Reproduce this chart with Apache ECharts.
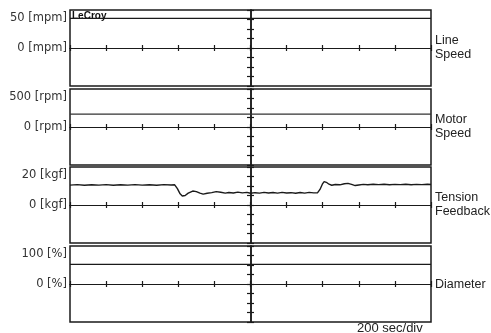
<!DOCTYPE html>
<html>
<head>
<meta charset="utf-8">
<script src="https://cdn.jsdelivr.net/npm/echarts@6/dist/echarts.min.js"></script>
<style>html,body{margin:0;padding:0;background:#fff}#c{width:491px;height:333px}</style>
</head>
<body>
<div id="c"></div>
<script>
// ---- data ----
const panelNames = ['Line\nSpeed', 'Motor\nSpeed', 'Tension\nFeedback', 'Diameter'];
const panelUnits = ['mpm', 'rpm', 'kgf', '%'];
const scaleLabelValues = [50, 500, 20, 100];      // labelled level on each panel
const valuePerDiv = [16, 160, 6.4, 32];           // value per vertical division
const timeAxisMin = -1000, timeAxisMax = 1000, secPerDiv = 200;

const divTime = [-1000, -800, -600, -400, -200, 0, 200, 400, 600, 800, 1000];
const lineSpeed = [50, 50, 50, 50, 50, 50, 50, 50, 50, 50, 50];
const motorSpeed = [218, 216, 219, 217, 218, 216, 218, 217, 219, 217, 218];
const diameter = [66, 66, 66, 66, 66, 66, 66, 66, 66, 66, 66];

const tensionTime = [
  -1000, -960, -920, -880, -840, -800, -760, -720, -680, -640, -600, -560, -520, -480, -440, -420,
  -405, -390, -378, -362, -345, -320, -300, -280, -262, -240, -215, -190, -165, -140, -120, -95, -70, -45, -20, 0,
  25, 50, 75, 100, 125, 150, 175, 200, 225, 250, 275, 300, 325, 350, 372,
  385, 398, 408, 420, 435, 450, 470, 495, 520, 540, 560, 580, 600, 625, 650, 680, 710, 740, 770, 800, 830, 860, 890, 920, 950, 980, 1000
];
const tension = [
  13.4, 13.7, 13.3, 13.6, 13.4, 13.7, 13.3, 13.6, 13.4, 13.7, 13.4, 13.6, 13.3, 13.7, 13.5, 13.6,
  11.0, 7.5, 6.1, 6.4, 8.0, 9.4, 9.0, 8.0, 7.3, 7.9, 8.3, 9.0, 8.6, 8.0, 8.4, 8.1, 8.7, 8.2, 8.5, 7.9,
  8.3, 8.0, 8.5, 8.1, 8.4, 8.0, 8.5, 8.1, 8.3, 7.9, 8.4, 8.0, 8.5, 8.2, 8.3,
  10.5, 14.0, 15.8, 15.3, 14.0, 13.3, 13.8, 13.6, 14.3, 14.6, 13.9, 13.1, 13.5, 13.9, 13.6, 14.0, 13.7, 14.0, 13.6, 13.9, 13.7, 14.0, 13.6, 13.9, 13.7, 14.0, 13.8
];

const seriesData = [
  divTime.map((t, i) => [t, lineSpeed[i]]),
  divTime.map((t, i) => [t, motorSpeed[i]]),
  tensionTime.map((t, i) => [t, tension[i]]),
  divTime.map((t, i) => [t, diameter[i]])
];

// ---- layout ----
const gridTops = [10, 89, 167, 246];
const gridH = 76, gridL = 70, gridW = 361;
const ink = '#1a1a1a';
const font = '"Liberation Sans", Arial, sans-serif';
const labelFont = '"DejaVu Sans", sans-serif';

const grids = [], xAxes = [], yAxes = [], series = [], graphics = [];
for (let i = 0; i < 4; i++) {
  grids.push({left: gridL, top: gridTops[i], width: gridW, height: gridH, show: true,
    borderColor: ink, borderWidth: 1.5, backgroundColor: '#fff', containLabel: false, outerBoundsMode: 'none'});
  const ymax = valuePerDiv[i] * 4;
  ['bottom', 'top'].forEach(pos => {
    xAxes.push({type: 'value', gridIndex: i, position: pos, min: timeAxisMin, max: timeAxisMax, interval: secPerDiv,
      axisLine: {show: true, onZero: true, lineStyle: {color: ink, width: 1.2}},
      axisTick: {show: true, length: 3, lineStyle: {color: ink, width: 1.2}},
      axisLabel: {show: false}, splitLine: {show: false}});
  });
  const u = panelUnits[i];
  yAxes.push({type: 'value', gridIndex: i, position: 'left', min: -ymax, max: ymax,
    axisLine: {show: false, onZero: false}, axisTick: {show: false}, splitLine: {show: false},
    axisLabel: {show: true, customValues: [0, scaleLabelValues[i]], margin: 3, color: '#333',
      fontFamily: labelFont, fontSize: 11.5, formatter: v => v + ' [' + u + ']'}});
  ['left', 'right'].forEach(pos => {
    yAxes.push({type: 'value', gridIndex: i, position: pos, min: -ymax, max: ymax, interval: valuePerDiv[i],
      axisLine: {show: true, onZero: true, lineStyle: {color: ink, width: 1.5}},
      axisTick: {show: true, length: 3.5, lineStyle: {color: ink, width: 1.2}},
      axisLabel: {show: false}, splitLine: {show: false}});
  });
  series.push({type: 'line', xAxisIndex: 2 * i, yAxisIndex: 3 * i + 1, data: seriesData[i],
    showSymbol: false, symbol: 'none', silent: true, animation: false,
    lineStyle: {color: i === 1 ? '#333' : ink, width: i === 2 ? 1.4 : 1.2}});
  graphics.push({type: 'text', left: 435, top: gridTops[i] + gridH / 2 - (panelNames[i].includes('\n') ? 15 : 7),
    style: {text: panelNames[i], fill: '#222', font: '12.5px ' + font, lineHeight: 14.5}});
}
graphics.push({type: 'text', left: 72, top: 11,
  style: {text: 'LeCroy', fill: '#111', font: 'bold 10px ' + font}});
graphics.push({type: 'text', left: 357, top: 322,
  style: {text: (secPerDiv) + ' sec/div', fill: '#222', font: '13px ' + font}});

const chart = echarts.init(document.getElementById('c'), null, {renderer: 'canvas'});
chart.setOption({
  animation: false,
  backgroundColor: '#fff',
  grid: grids, xAxis: xAxes, yAxis: yAxes, series: series, graphic: graphics
});
</script>
</body>
</html>
